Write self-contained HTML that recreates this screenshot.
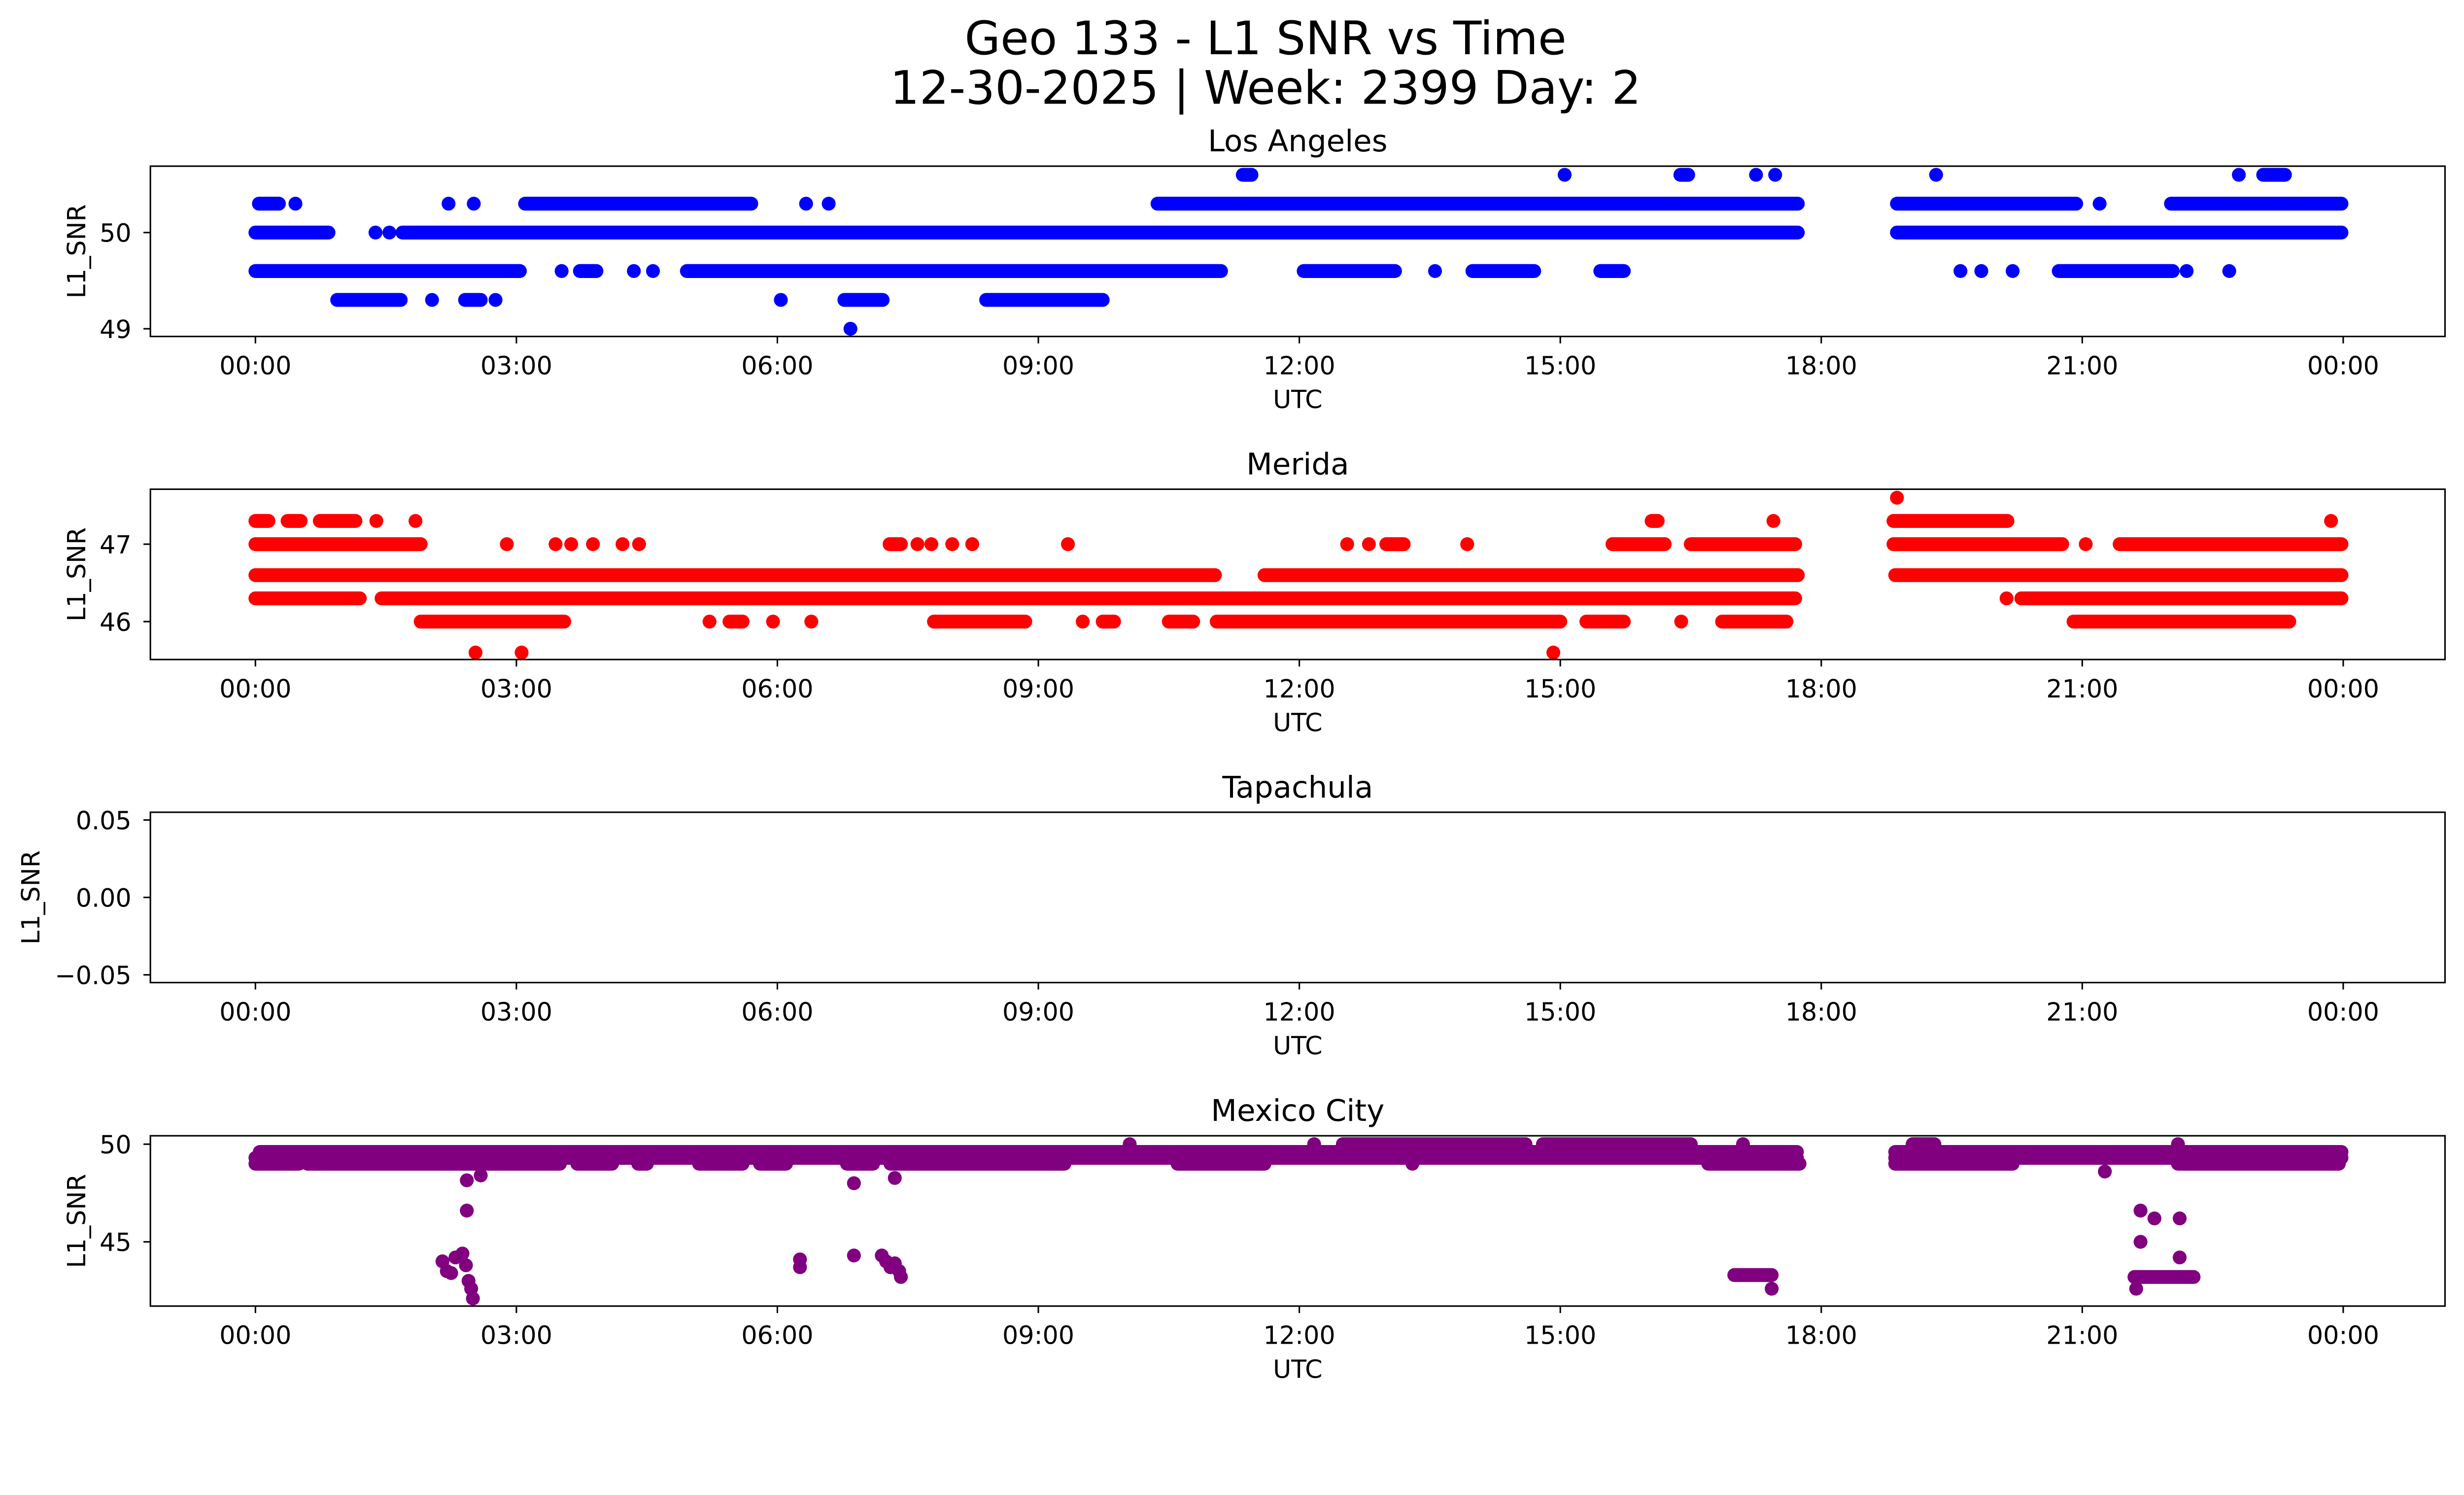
<!DOCTYPE html>
<html><head><meta charset="utf-8"><style>
html,body{margin:0;padding:0;background:#fff;overflow:hidden}
svg{display:block;width:100vw;height:auto}
text{font-family:"DejaVu Sans","Liberation Sans",sans-serif;fill:#000}
</style></head><body>
<svg id="fig" viewBox="0 0 5325 3033" preserveAspectRatio="xMinYMin meet" xmlns="http://www.w3.org/2000/svg">
<text x="2735" y="117" font-size="100" text-anchor="middle">Geo 133 - L1 SNR vs Time</text>
<text x="2735" y="224" font-size="100" text-anchor="middle">12-30-2025 | Week: 2399 Day: 2</text>
</svg>
<script>
// x tick labels (hours)
const xTickHours = [0, 3, 6, 9, 12, 15, 18, 21, 24];
const xTickLabels = ["00:00","03:00","06:00","09:00","12:00","15:00","18:00","21:00","00:00"];

// Los Angeles: runs of samples [start hour, end hour, SNR]
const laStart = [11.35,15.05,16.38,17.25,17.47,19.32,22.8,23.08, 0.04,0.46,2.22,2.51,3.1,6.33,6.59,10.37,18.87,21.2,22.02, 0.0,1.38,1.54,1.69,18.87, 0.0,3.52,3.73,4.35,4.57,4.96,12.05,13.56,13.99,15.46,19.6,19.84,20.2,20.73,22.2,22.69, 0.94,2.03,2.41,2.76,6.04,6.77,8.4, 6.84];
const laEnd   = [11.45,15.05,16.47,17.25,17.47,19.32,22.8,23.33, 0.27,0.46,2.22,2.51,5.7,6.33,6.59,17.73,20.93,21.2,23.98, 0.84,1.38,1.54,17.73,23.98, 3.04,3.52,3.92,4.35,4.57,11.1,13.1,13.56,14.7,15.73,19.6,19.84,20.2,22.04,22.2,22.69, 1.67,2.03,2.59,2.76,6.04,7.21,9.74, 6.84];
const laValue = [50.6,50.6,50.6,50.6,50.6,50.6,50.6,50.6, 50.3,50.3,50.3,50.3,50.3,50.3,50.3,50.3,50.3,50.3,50.3, 50,50,50,50,50, 49.6,49.6,49.6,49.6,49.6,49.6,49.6,49.6,49.6,49.6,49.6,49.6,49.6,49.6,49.6,49.6, 49.3,49.3,49.3,49.3,49.3,49.3,49.3, 49.0];

// Merida
const meStart = [18.87, 0.0,0.37,0.74,1.39,1.84,16.05,17.45,18.83,23.86, 0.0,2.89,3.45,3.63,3.88,4.22,4.41,7.29,7.61,7.77,8.01,8.24,9.34,12.55,12.8,13.0,13.93,15.6,16.5,18.83,21.04,21.43, 0.0,11.6,18.85, 0.0,1.45,20.13,20.3, 1.9,5.22,5.45,5.95,6.39,7.8,9.51,9.74,10.5,11.05,15.3,16.39,16.86,20.9, 2.53,3.06,14.92];
const meEnd   = [18.87, 0.15,0.52,1.15,1.39,1.84,16.12,17.45,20.14,23.86, 1.9,2.89,3.45,3.63,3.88,4.22,4.41,7.42,7.61,7.77,8.01,8.24,9.34,12.55,12.8,13.2,13.93,16.2,17.7,20.77,21.04,23.98, 11.03,17.73,23.98, 1.2,17.7,20.13,23.98, 3.55,5.22,5.6,5.95,6.39,8.85,9.51,9.87,10.78,15.0,15.73,16.39,17.6,23.38, 2.53,3.06,14.92];
const meValue = [47.6, 47.3,47.3,47.3,47.3,47.3,47.3,47.3,47.3,47.3, 47,47,47,47,47,47,47,47,47,47,47,47,47,47,47,47,47,47,47,47,47,47, 46.6,46.6,46.6, 46.3,46.3,46.3,46.3, 46,46,46,46,46,46,46,46,46,46,46,46,46,46, 45.6,45.6,45.6];

// Tapachula: no data
const taStart = [];
const taEnd = [];
const taValue = [];

// Mexico City
const mxStart = [0.05,18.85, 0.0,18.85, 0.0,0.6,3.7,4.4,5.1,5.8,6.8,7.3,10.6,13.3,16.7,18.85,21.26,22.1, 10.05,12.17,12.5,14.8,17.1,19.05,22.1, 2.43,2.43,2.59,6.88,7.35,21.67,21.83,22.12, 2.15,2.2,2.25,2.3,2.38,2.42,2.45,2.48,2.5,6.26,6.26,6.88,7.2,7.25,7.3,7.35,7.4,7.42, 21.67,22.12,17.0,17.43,21.6,21.62];
const mxEnd   = [17.72,23.98, 17.72,23.98, 0.5,3.5,4.1,4.5,5.6,6.1,7.1,9.3,11.6,13.3,17.75,20.2,21.26,23.95, 10.05,12.17,14.6,16.5,17.1,19.3,22.1, 2.43,2.43,2.59,6.88,7.35,21.67,21.83,22.12, 2.15,2.2,2.25,2.3,2.38,2.42,2.45,2.48,2.5,6.26,6.26,6.88,7.2,7.25,7.3,7.35,7.4,7.42, 21.67,22.12,17.43,17.43,22.28,21.62];
const mxValue = [49.6,49.6, 49.3,49.3, 49,49,49,49,49,49,49,49,49,49,49,49,48.6,49, 50,50,50,50,50,50,50, 48.15,46.6,48.4,48.0,48.27,46.6,46.2,46.2, 44.0,43.5,43.4,44.2,44.4,43.8,43.0,42.6,42.1,44.1,43.7,44.3,44.3,44.0,43.7,43.9,43.5,43.2, 45.0,44.2,43.3,42.6,43.2,42.6];

const yTicks1 = [49, 50];
const yTicks2 = [46, 47];
const yTicks3 = [-0.05, 0, 0.05];
const yTickLabels3 = ["\u22120.05", "0.00", "0.05"];
const yTicks4 = [45, 50];

const NS = "http://www.w3.org/2000/svg";
const svg = document.getElementById("fig");
const AX_L = 325, AX_R = 5284, AX_H = 368;
function xPos(h){ return 552 + h * 188; }
function mk(tag, attrs, parent){
  const e = document.createElementNS(NS, tag);
  for (const k in attrs) e.setAttribute(k, attrs[k]);
  (parent || svg).appendChild(e);
  return e;
}

const panels = [
  {slug:"los-angeles", title:"Los Angeles", top:359, ymin:48.92, ymax:50.69, color:"#0000ff", s:laStart, e:laEnd, v:laValue, ticks:yTicks1, labels:null, ylx:184},
  {slug:"merida", title:"Merida", top:1057, ymin:45.51, ymax:47.71, color:"#ff0000", s:meStart, e:meEnd, v:meValue, ticks:yTicks2, labels:null, ylx:184},
  {slug:"tapachula", title:"Tapachula", top:1755, ymin:-0.055, ymax:0.055, color:"#0000ff", s:taStart, e:taEnd, v:taValue, ticks:yTicks3, labels:yTickLabels3, ylx:85},
  {slug:"mexico-city", title:"Mexico City", top:2454, ymin:41.71, ymax:50.43, color:"#800080", s:mxStart, e:mxEnd, v:mxValue, ticks:yTicks4, labels:null, ylx:184}
];

panels.forEach(function(p){
  const g = mk("g", {});
  
  
  const bottom = p.top + AX_H;
  function yPos(v){ return bottom - (v - p.ymin) / (p.ymax - p.ymin) * AX_H; }
  const clipId = "clip-" + p.slug;
  const cp = mk("clipPath", {id: clipId}, g);
  mk("rect", {x:AX_L, y:p.top, width:AX_R-AX_L, height:AX_H}, cp);
  const marks = mk("g", {"clip-path":"url(#" + clipId + ")"}, g);
  
  
  for (let i = 0; i < p.v.length; i++){
    const x1 = xPos(p.s[i]), x2 = xPos(p.e[i]), y = yPos(p.v[i]);
    let el;
    if (x2 - x1 < 1){
      el = mk("circle", {cx:x1, cy:y, r:15, fill:p.color}, marks);
    } else {
      el = mk("line", {x1:x1, y1:y, x2:x2, y2:y, stroke:p.color, "stroke-width":30, "stroke-linecap":"round"}, marks);
    }
    
    
  }
  const frame = mk("rect", {x:AX_L, y:p.top, width:AX_R-AX_L, height:AX_H, fill:"none", stroke:"#000", "stroke-width":3.3}, g);
  
  
  xTickHours.forEach(function(h, i){
    const x = xPos(h);
    const t = mk("line", {x1:x, y1:bottom, x2:x, y2:bottom+15, stroke:"#000", "stroke-width":3.3}, g);
    
    
    const lb = mk("text", {x:x, y:bottom+82, "font-size":54, "text-anchor":"middle"}, g);
    lb.textContent = xTickLabels[i];
    
    
  });
  p.ticks.forEach(function(v, i){
    const y = yPos(v);
    const t = mk("line", {x1:AX_L-15, y1:y, x2:AX_L, y2:y, stroke:"#000", "stroke-width":3.3}, g);
    
    
    const lb = mk("text", {x:284, y:y+20, "font-size":54, "text-anchor":"end"}, g);
    lb.textContent = p.labels ? p.labels[i] : String(v);
    
    
  });
  const xl = mk("text", {x:(AX_L+AX_R)/2, y:bottom+155, "font-size":54, "text-anchor":"middle"}, g);
  xl.textContent = "UTC";
  
  
  const cy = p.top + AX_H/2;
  const yl = mk("text", {x:p.ylx, y:cy, "font-size":54, "text-anchor":"middle", transform:"rotate(-90 " + p.ylx + " " + cy + ")"}, g);
  yl.textContent = "L1_SNR";
  
  
  const tt = mk("text", {x:(AX_L+AX_R)/2, y:p.top-32, "font-size":65, "text-anchor":"middle"}, g);
  tt.textContent = p.title;
  
  
});
</script>
</body></html>
